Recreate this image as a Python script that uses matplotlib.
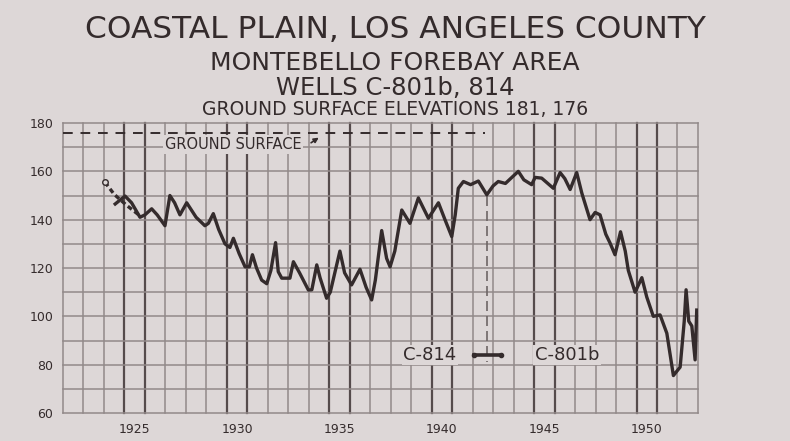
import matplotlib
matplotlib.use("Agg")
import matplotlib.pyplot as plt

# water level, wells C-801b / 814 (feet above sea level)
years = [1924.55, 1925.03, 1925.35, 1925.76, 1926.0, 1926.33, 1926.6, 1926.98,
         1927.22, 1927.45, 1927.71, 1928.04, 1928.5, 1928.93, 1929.1, 1929.34,
         1929.6, 1929.91, 1930.15, 1930.32, 1930.6, 1930.89, 1931.1, 1931.25,
         1931.45, 1931.7, 1931.95, 1932.15, 1932.38, 1932.51, 1932.68, 1933.08,
         1933.25, 1933.55, 1933.98, 1934.15, 1934.39, 1934.55, 1934.87, 1935.05,
         1935.52, 1935.75, 1936.09, 1936.5, 1936.8, 1937.07, 1937.25, 1937.56,
         1937.8, 1937.97, 1938.2, 1938.54, 1938.94, 1939.35, 1939.84, 1940.33,
         1940.65, 1940.98, 1941.15, 1941.3, 1941.55, 1941.9, 1942.28, 1942.69,
         1943.0, 1943.25, 1943.6, 1943.85, 1944.23, 1944.5, 1944.88, 1945.05,
         1945.37, 1945.94, 1946.27, 1946.5, 1946.76, 1947.08, 1947.33, 1947.73,
         1947.98, 1948.22, 1948.5, 1948.71, 1948.95, 1949.22, 1949.45, 1949.6,
         1949.93, 1950.26, 1950.5, 1950.82, 1951.15, 1951.48, 1951.8, 1952.13,
         1952.33, 1952.42, 1952.55, 1952.7, 1952.86, 1952.94]
levels = [146.5, 149.8, 147, 141, 142, 144.5, 142, 137.5,
          150, 147, 142, 147, 141, 137.5, 138.5, 142.5,
          136, 130, 128.5, 132.3, 126, 120.5, 120.5, 125.5,
          120, 115, 113.5, 119, 130.5, 118.5, 115.8, 115.8,
          122.6, 118, 110.9, 111, 121.3, 116, 107.5, 110,
          127, 118, 113, 119.5, 112, 106.8, 115, 135.5,
          124, 120.5, 127, 144, 138.5, 149, 140.6, 147,
          140, 133, 142, 153, 155.8, 154.5, 156, 150.3,
          154, 155.8, 155, 157, 160, 156.5, 154.5, 157.5,
          157.2, 153, 159.5, 157, 152.5, 159.5, 151, 140,
          143, 142, 134, 130.3, 125.5, 135, 127, 119,
          110, 116, 108, 100, 100.6, 93, 75.5, 79,
          98, 111, 98, 96, 82, 102.6]

# estimated early record (dashed)
est_years = [1924.05, 1924.5, 1925.1, 1925.7]
est_levels = [155.5, 150.5, 146, 142]

ground_surface = 176
ground_end = 1942.6
well_change = 1942.7  # C-814 -> C-801b

x_labels = [1925, 1930, 1935, 1940, 1945, 1950]
y_ticks = [60, 80, 100, 120, 140, 160, 180]

bg = "#ddd7d7"
ink = "#342b2c"
grid_c = "#928989"

fig = plt.figure(figsize=(7.9, 4.41), dpi=100, facecolor=bg)
ax = fig.add_axes([0.0797, 0.0635, 0.8038, 0.6575], facecolor=bg)
ax.set_xlim(1922, 1953)
ax.set_ylim(60, 180)

# grid
for yr in range(1922, 1954):
    dark = (yr % 5 == 0) or (yr % 5 == 1 and yr > 1922)
    ax.axvline(yr, color="#554b4c" if dark else grid_c,
               lw=1.6 if dark else 1.1, zorder=1, clip_on=False)
for v in range(60, 181, 10):
    ax.axhline(v, color=grid_c, lw=1.1, zorder=1, clip_on=False)

# ground surface
ax.plot([1922, ground_end], [ground_surface, ground_surface], color=ink,
        lw=1.4, ls=(0, (5, 4)), zorder=2)
ax.text(1930.3, 171, "GROUND SURFACE", ha="center", va="center",
        fontsize=10.5, color=ink, zorder=4,
        bbox=dict(facecolor=bg, edgecolor="none", pad=1.5))
ax.annotate("", xy=(1934.6, 174.6), xytext=(1934.0, 171.2),
            arrowprops=dict(arrowstyle="-|>", color=ink, lw=1.2,
                            mutation_scale=7), zorder=4)

# hydrograph
ax.plot(est_years, est_levels, color=ink, lw=2.4, ls=(0, (1.5, 1)),
        zorder=3)
ax.plot(est_years[:1], est_levels[:1], "o", ms=4, mfc=bg, mec=ink,
        mew=1, zorder=3)
ax.plot(years, levels, color=ink, lw=2.4, zorder=3, solid_joinstyle="round")

# change of well
ax.plot([well_change, well_change], [150, 81], color="#6e6566", lw=1.2,
        ls=(0, (6, 3)), zorder=2)
ax.text(1939.9, 84, "C-814", ha="center", va="center", fontsize=13,
        color=ink, zorder=4, bbox=dict(facecolor=bg, edgecolor="none", pad=1))
ax.text(1946.6, 84, "C-801b", ha="center", va="center", fontsize=13,
        color=ink, zorder=4, bbox=dict(facecolor=bg, edgecolor="none", pad=1))
ax.plot([1942.05, 1943.4], [84, 84], color=ink, lw=2.6, zorder=4,
        marker="o", ms=3, markevery=[0, 1])

# axes labels
ax.set_xticks([y + 0.5 for y in x_labels])
ax.set_xticklabels([str(y) for y in x_labels])
ax.set_yticks(y_ticks)
ax.tick_params(length=0, labelsize=9, labelcolor=ink, pad=7)
for s in ax.spines.values():
    s.set_visible(False)

# titles
fig.text(0.5, 0.913, "COASTAL PLAIN, LOS ANGELES COUNTY", ha="center",
         va="baseline", fontsize=22.5, color=ink)
fig.text(0.5, 0.841, "MONTEBELLO FOREBAY AREA", ha="center",
         va="baseline", fontsize=18, color=ink)
fig.text(0.5, 0.785, "WELLS C-801b, 814", ha="center", va="baseline",
         fontsize=17.5, color=ink)
fig.text(0.5, 0.739, "GROUND SURFACE ELEVATIONS 181, 176", ha="center",
         va="baseline", fontsize=13.5, color=ink)

fig.savefig("out.png", dpi=100, facecolor=bg)
